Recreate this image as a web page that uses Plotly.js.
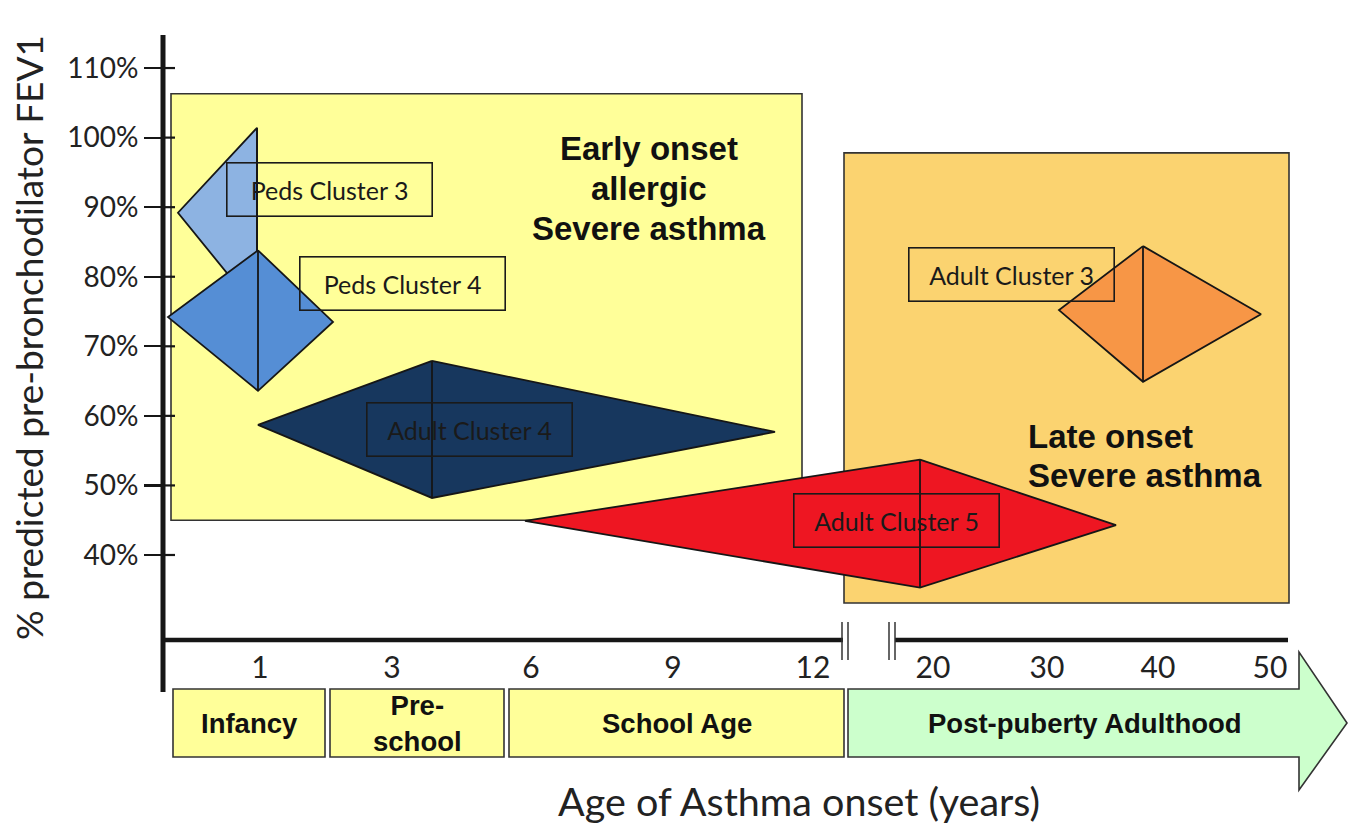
<!DOCTYPE html>
<html>
<head>
<meta charset="utf-8">
<script src="https://cdn.plot.ly/plotly-3.0.1.min.js"></script>
<style>html,body{margin:0;padding:0;background:#fff}#chart{width:1351px;height:825px}</style>
</head>
<body>
<div id="chart"></div>
<script>
// ---------- data ----------
const yTickVals = [40, 50, 60, 70, 80, 90, 100, 110];
const yTickText = ['40%', '50%', '60%', '70%', '80%', '90%', '100%', '110%'];
const xTickText = ['1', '3', '6', '9', '12', '20', '30', '40', '50'];
const xTickPos = [9.7, 22.9, 36.8, 51.0, 65.0, 77.0, 88.4, 99.5, 110.7];

const clusterNames = ['Peds Cluster 3', 'Peds Cluster 4', 'Adult Cluster 4', 'Adult Cluster 5', 'Adult Cluster 3'];
const clusterCenterX = [9.4, 9.5, 26.9, 75.7, 98.0];
const clusterLeftX = [1.5, 0.5, 9.5, 36.2, 89.6];
const clusterRightX = [9.4, 17.0, 61.2, 95.3, 109.8];
const clusterTopY = [101.4, 83.8, 67.9, 53.7, 84.4];
const clusterBottomY = [75.2, 63.6, 48.2, 35.3, 64.9];
const clusterLeftY = [89.2, 74.2, 58.7, 44.9, 75.2];
const clusterRightY = [89.2, 73.5, 57.7, 44.3, 74.6];
const clusterColors = ['#8DB3E2', '#558ED5', '#17375E', '#EE1622', '#F79646'];

const groupNames = ['Early onset<br>allergic<br>Severe asthma', 'Late onset<br>Severe asthma'];
const groupX0 = [0.8, 68.1];
const groupX1 = [63.9, 112.6];
const groupY0 = [45.0, 33.1];
const groupY1 = [106.3, 97.8];
const groupColors = ['#FFFF99', '#FBD370'];

const stageNames = ['Infancy', 'Pre-<br>school', 'School Age', 'Post-puberty Adulthood'];
const stageX0 = [1.0, 16.7, 34.6, 68.5];
const stageX1 = [16.2, 34.1, 68.1, 113.6];

// ---------- layout constants ----------
const W = 1351, H = 825;
const M = {l: 163, r: 0, t: 35, b: 185};
const plotH = H - M.t - M.b;           // 605
const plotW = W - M.l - M.r;
const pxToPaperY = py => (H - M.b - py) / plotH;   // pixel row -> paper y
const pxToX = px => (px - M.l) / 10;               // pixel column -> x units
const xRange = [0, 118.8];
const yRange = [27.78, 114.75];

const LINE = '#161616';
const BOLD = 'Liberation Sans, Arial, sans-serif';

// ---------- traces ----------
const traces = [];
clusterNames.forEach((name, i) => {
  traces.push({
    type: 'scatter', mode: 'lines', name: name, showlegend: false,
    x: [clusterCenterX[i], clusterLeftX[i], clusterCenterX[i], clusterRightX[i], clusterCenterX[i]],
    y: [clusterTopY[i], clusterLeftY[i], clusterBottomY[i], clusterRightY[i], clusterTopY[i]],
    fill: 'toself', fillcolor: clusterColors[i],
    line: {color: LINE, width: 1.8}, hoverinfo: 'skip'
  });
  traces.push({
    type: 'scatter', mode: 'lines', showlegend: false,
    x: [clusterCenterX[i], clusterCenterX[i]],
    y: [clusterTopY[i], clusterBottomY[i]],
    line: {color: LINE, width: 1.8}, hoverinfo: 'skip'
  });
});

// ---------- shapes ----------
const shapes = [];
groupNames.forEach((g, i) => {
  shapes.push({type: 'rect', layer: 'below', xref: 'x', yref: 'y',
    x0: groupX0[i], x1: groupX1[i], y0: groupY0[i], y1: groupY1[i],
    fillcolor: groupColors[i], line: {color: '#333', width: 1.6}});
});
shapes.push({type: 'line', xref: 'paper', yref: 'paper', x0: 0, x1: 0, y0: pxToPaperY(692), y1: 1,
  line: {color: LINE, width: 5}});
yTickVals.forEach(v => {
  shapes.push({type: 'line', xref: 'paper', yref: 'y', x0: 0, x1: 12 / plotW, y0: v, y1: v,
    line: {color: LINE, width: 2.2}});
});
shapes.push({type: 'line', xref: 'x', yref: 'paper', x0: pxToX(165), x1: pxToX(843), y0: 0, y1: 0,
  line: {color: LINE, width: 4.5}});
shapes.push({type: 'line', xref: 'x', yref: 'paper', x0: pxToX(895), x1: pxToX(1288), y0: 0, y1: 0,
  line: {color: LINE, width: 4.5}});
[842, 848, 889, 895].forEach(px => {
  shapes.push({type: 'line', xref: 'x', yref: 'paper', x0: pxToX(px), x1: pxToX(px),
    y0: pxToPaperY(622), y1: pxToPaperY(660), line: {color: '#333', width: 1.5}});
});
const sTop = pxToPaperY(689), sBot = pxToPaperY(757);
stageNames.forEach((s, i) => {
  if (i < stageNames.length - 1) {
    shapes.push({type: 'rect', xref: 'x', yref: 'paper', x0: stageX0[i], x1: stageX1[i], y0: sBot, y1: sTop,
      fillcolor: '#FFFF99', line: {color: '#333', width: 1.6}});
  } else {
    const hTop = pxToPaperY(652), hBot = pxToPaperY(790), mid = (sTop + sBot) / 2;
    const tip = pxToX(1347);
    const p = `M ${stageX0[i]},${sTop} L ${stageX1[i]},${sTop} L ${stageX1[i]},${hTop} L ${tip},${mid} ` +
              `L ${stageX1[i]},${hBot} L ${stageX1[i]},${sBot} L ${stageX0[i]},${sBot} Z`;
    shapes.push({type: 'path', xref: 'x', yref: 'paper', path: p,
      fillcolor: '#CCFFCC', line: {color: '#333', width: 1.6}});
  }
});

// ---------- annotations ----------
const annotations = [];
const labelPos = [[16.65, 92.6], [23.9, 79.0], [30.65, 58.1], [73.3, 45.0], [84.85, 80.3]];
clusterNames.forEach((n, i) => {
  annotations.push({xref: 'x', yref: 'y', x: labelPos[i][0], y: labelPos[i][1], text: n, showarrow: false,
    xanchor: 'center', yanchor: 'middle',
    width: 204, height: 52, borderpad: 0, bordercolor: '#1a1a1a', borderwidth: 1.6,
    font: {family: 'Lato, sans-serif', size: 25, color: '#1a1a1a'}, align: 'center', valign: 'middle'});
});
// onset group titles, one annotation per line
const groupLineY = [[148, 188, 228], [436, 475]];
groupNames.forEach((g, i) => {
  g.split('<br>').forEach((ln, j) => {
    annotations.push({xref: 'x', yref: 'paper',
      x: i === 0 ? pxToX(649) : pxToX(1026), xanchor: i === 0 ? 'center' : 'left',
      y: pxToPaperY(groupLineY[i][j]), yanchor: 'middle',
      text: '<b>' + ln + '</b>', showarrow: false,
      font: {family: BOLD, size: 33, color: '#111'}});
  });
});
const stageCenters = [null, null, null, pxToX(1085)];
stageNames.forEach((s, i) => {
  const cx = stageCenters[i] !== null ? stageCenters[i] : (stageX0[i] + stageX1[i]) / 2;
  annotations.push({xref: 'x', yref: 'paper', x: cx, y: pxToPaperY(723), xanchor: 'center', yanchor: 'middle',
    text: '<b>' + s + '</b>', showarrow: false, align: 'center',
    font: {family: BOLD, size: 27.5, color: '#111'}});
});
annotations.push({xref: 'paper', yref: 'paper', x: (799 - M.l) / plotW, y: pxToPaperY(800),
  xanchor: 'center', yanchor: 'middle',
  text: 'Age of Asthma onset (years)', showarrow: false,
  font: {family: 'Lato, sans-serif', size: 39.5, color: '#222'}});

const layout = {
  width: W, height: H, margin: M,
  paper_bgcolor: '#fff', plot_bgcolor: 'rgba(0,0,0,0)',
  showlegend: false, hovermode: false,
  xaxis: {range: xRange, showgrid: false, zeroline: false, showline: false,
    tickmode: 'array', tickvals: xTickPos, ticktext: xTickText,
    ticks: 'outside', ticklen: 1, tickcolor: 'rgba(0,0,0,0)',
    tickfont: {family: 'Lato, sans-serif', size: 30, color: '#222'}, fixedrange: true},
  yaxis: {range: yRange, showgrid: false, zeroline: false, showline: false,
    tickmode: 'array', tickvals: yTickVals, ticktext: yTickText,
    ticks: 'outside', ticklen: 18, tickwidth: 2.2, tickcolor: LINE,
    tickfont: {family: 'Lato, sans-serif', size: 28, color: '#222'},
    title: {text: '% predicted pre-bronchodilator FEV1', standoff: 12,
      font: {family: 'Lato, sans-serif', size: 37, color: '#222'}}, fixedrange: true},
  shapes: shapes, annotations: annotations
};

Plotly.newPlot('chart', traces, layout, {displayModeBar: false, staticPlot: true});
</script>
</body>
</html>
